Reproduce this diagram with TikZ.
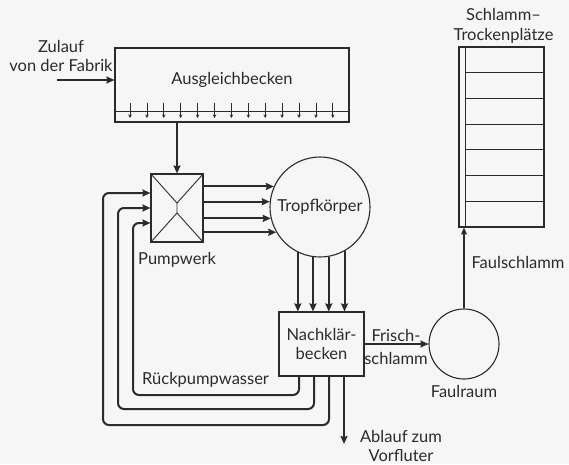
\documentclass[tikz,border=0pt]{standalone}
\usepackage{fontspec}
\setmainfont{Lato}
\usetikzlibrary{arrows.meta, positioning, calc}

\definecolor{ink}{HTML}{2B2B2B}
\definecolor{paper}{HTML}{F6F6F6}

\begin{document}
\begin{tikzpicture}[
    x=1pt, y=-1pt,
    color=ink,
    font=\fontsize{16.5}{19.5}\selectfont,
    basin/.style={draw, line width=1.1pt, inner sep=0pt},
    tank/.style={draw, circle, line width=1.1pt, inner sep=0pt},
    lbl/.style={align=center, inner sep=1pt, text=ink},
    arrow/.style={-{Stealth[length=8pt, width=7pt, inset=1pt]}, line width=2pt},
    thinarrow/.style={-{Stealth[length=7pt, width=6pt, inset=1pt]}, line width=1.2pt},
    tinyarrow/.style={-{Stealth[length=3.5pt, width=3.5pt]}, line width=0.7pt},
    ret/.style={arrow, rounded corners=6pt}
]
\fill[paper] (0,0) rectangle (569,464);
\useasboundingbox (0,0) rectangle (569,464);

% Ausgleichbecken mit Verteilerrinne
\node[basin, minimum width=234pt, minimum height=74pt] (ausgleich) at (232,85) {};
\node[lbl] (ausgleichlabel) at (232,80) {Ausgleichbecken};
\draw[line width=1.1pt] ([yshift=11pt]ausgleich.south west) -- ([yshift=11pt]ausgleich.south east);
\foreach \i in {0,...,12}
    \draw[tinyarrow] (130+16.9*\i,103) -- (130+16.9*\i,118);

\coordinate (inlet) at (57,80);
\node[lbl] (zulauf) at (61,56) {Zulauf\\von der Fabrik};
\draw[arrow] (inlet) -- (inlet -| ausgleich.west);

% Pumpwerk
\node[basin, minimum width=52pt, minimum height=68pt] (pump) at (177,208) {};
\coordinate (pumptop) at ([yshift=5pt]pump.center);
\coordinate (pumpbot) at ([yshift=-5pt]pump.center);
\draw[line width=0.9pt] (pump.north west) -- (pumptop) -- (pump.north east)
    (pumptop) -- (pumpbot)
    (pump.south west) -- (pumpbot) -- (pump.south east);
\node[lbl, below=9pt of pump] (pumplabel) {Pumpwerk};
\draw[arrow] (ausgleich.south -| pump.north) -- (pump.north);

% Tropfkoerper
\node[tank, lbl, inner sep=0pt, minimum size=100pt] (tropf) at (320,207) {Tropfkörper};
\foreach \a in {156,174,193,210}
    \draw[arrow] (pump.east |- tropf.\a) -- (tropf.\a);

% Nachklaerbecken
\node[lbl, basin, minimum width=85pt, minimum height=64pt] (nach) at (321.5,344) {Nachklär-\\becken};
\foreach \a in {244,262,280,299}
    \draw[arrow] (tropf.\a) -- (tropf.\a |- nach.north);

% Rueckpumpwasser
\draw[ret] ([xshift=-22.5pt]nach.south) |- (133,395) |- ([yshift=-15pt]pump.west);
\draw[ret] ([xshift=-7.5pt]nach.south) |- (118,409) |- (pump.west);
\draw[ret] ([xshift=7.5pt]nach.south) |- (103,425) |- ([yshift=15pt]pump.west);
\node[lbl, anchor=west] (rueck) at (141,380) {Rückpumpwasser};

\coordinate (outlet) at (344,444);
\draw[arrow] ([xshift=22.5pt]nach.south) -- (outlet);
\node[lbl] (ablauf) at (401,446) {Ablauf zum\\Vorfluter};

% Faulraum
\node[tank, minimum size=70pt] (faul) at (464,344) {};
\node[lbl, below=5pt of faul] (faullabel) {Faulraum};
\draw[arrow] (nach.east) -- (faul.west);
\node[lbl] (frisch) at (396,347) {Frisch-\\[4pt]schlamm};

% Schlammtrockenplaetze
\node[basin, minimum width=85pt, minimum height=180pt] (beds) at (501.5,137) {};
\draw[line width=1.1pt] ([xshift=7pt]beds.north west) -- ([xshift=7pt]beds.south west);
\foreach \k in {1,...,6}
    \draw[line width=1.1pt] (466,47+25.71*\k) -- (544,47+25.71*\k);
\node[lbl, above=2pt of beds, xshift=2pt] (bedslabel) {Schlamm–\\Trockenplätze};
\draw[thinarrow] (faul.north) -- (faul.north |- beds.south);
\node[lbl] (faulschlamm) at (518,262) {Faulschlamm};

\end{tikzpicture}
\end{document}
